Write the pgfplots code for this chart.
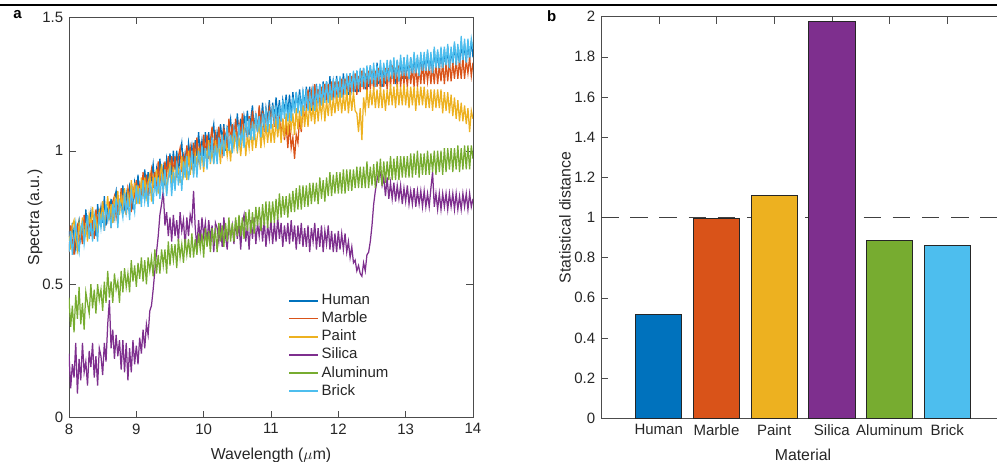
\documentclass[border=0pt]{standalone}
\usepackage{fontspec}
\setmainfont{Liberation Sans}
\usepackage{pgfplots}
\usepackage{pgfplotstable}
\pgfplotsset{compat=1.18}

\definecolor{cHuman}{HTML}{0072BD}
\definecolor{cMarble}{HTML}{D95319}
\definecolor{cPaint}{HTML}{EDB120}
\definecolor{cSilica}{HTML}{7E2F8E}
\definecolor{cAlum}{HTML}{77AC30}
\definecolor{cBrick}{HTML}{4DBEEE}
\definecolor{txt}{HTML}{262626}

% spectra, one column per material
\pgfplotstableread{
x      h    m    p    s    a    b
8.000  .70  .62  .68  .24  .45  .62
8.025  .64  .72  .63  .11  .34  .70
8.050  .73  .66  .72  .20  .42  .61
8.075  .67  .61  .74  .15  .32  .68
8.100  .63  .70  .67  .28  .46  .73
8.125  .71  .72  .63  .09  .37  .66
8.150  .74  .66  .73  .22  .49  .62
8.175  .67  .70  .69  .14  .35  .71
8.200  .72  .65  .75  .28  .43  .73
8.225  .66  .76  .67  .17  .33  .65
8.250  .78  .69  .73  .21  .47  .70
8.275  .70  .71  .66  .12  .43  .76
8.300  .72  .75  .76  .25  .39  .67
8.325  .77  .68  .72  .19  .50  .73
8.350  .69  .74  .79  .28  .41  .66
8.375  .76  .67  .70  .15  .48  .76
8.400  .68  .78  .75  .23  .39  .72
8.425  .80  .73  .69  .12  .50  .66
8.450  .74  .77  .78  .26  .44  .77
8.475  .79  .72  .73  .23  .48  .71
8.500  .73  .81  .81  .16  .40  .77
8.525  .83  .70  .72  .28  .51  .70
8.550  .72  .77  .77  .21  .43  .80
8.575  .78  .74  .83  .35  .55  .74
8.600  .76  .81  .74  .44  .45  .77
8.625  .82  .71  .80  .26  .51  .71
8.650  .73  .81  .73  .33  .43  .80
8.675  .82  .83  .83  .22  .54  .75
8.700  .85  .75  .78  .31  .48  .82
8.725  .76  .79  .85  .23  .51  .71
8.750  .81  .78  .76  .29  .43  .81
8.775  .79  .86  .83  .18  .55  .79
8.800  .87  .77  .79  .29  .47  .75
8.825  .79  .83  .86  .17  .56  .84
8.850  .84  .76  .76  .28  .49  .77
8.875  .78  .86  .84  .14  .54  .82
8.900  .87  .83  .79  .26  .47  .74
8.925  .85  .77  .89  .17  .59  .85
8.950  .78  .86  .82  .29  .51  .81
8.975  .88  .83  .88  .20  .57  .77
9.000  .84  .89  .80  .27  .49  .87
9.025  .91  .81  .87  .20  .58  .80
9.050  .82  .87  .80  .30  .52  .86
9.075  .88  .82  .90  .24  .60  .79
9.100  .84  .92  .83  .33  .51  .89
9.125  .93  .84  .90  .26  .59  .81
9.150  .86  .91  .83  .35  .50  .86
9.175  .92  .82  .88  .31  .60  .79
9.200  .84  .89  .91  .40  .55  .88
9.225  .90  .93  .81  .42  .60  .86
9.250  .95  .86  .90  .48  .53  .80
9.275  .87  .92  .86  .55  .63  .90
9.300  .93  .85  .93  .62  .54  .83
9.325  .87  .96  .84  .68  .61  .90
9.350  .97  .88  .90  .76  .54  .82
9.375  .90  .93  .95  .80  .63  .90
9.400  .94  .85  .86  .85  .57  .85
9.425  .87  .96  .93  .72  .63  .93
9.450  .97  .91  .84  .77  .54  .83
9.475  .93  .98  .92  .68  .66  .90
9.500  .99  .90  .95  .75  .57  .93
9.525  .91  .98  .87  .66  .65  .83
9.550  1.00 .92  .94  .76  .59  .92
9.575  .93  .98  .86  .68  .65  .85
9.600  1.00 .90  .95  .74  .56  .96
9.625  .91  .98  .93  .66  .67  .87
9.650  .99  1.01 .88  .77  .60  .93
9.675  1.03 .92  .98  .70  .65  .85
9.700  .93  .98  .91  .74  .58  .96
9.725  .99  .94  .96  .64  .67  .90
9.750  .95  1.02 .89  .75  .61  .98
9.775  1.03 .96  1.00 .68  .67  .89
9.800  .98  1.01 .91  .76  .60  .94
9.825  1.02 .93  .97  .73  .69  1.00
9.850  .95  1.03 .91  .85  .60  .90
9.875  1.04 .97  .99  .71  .67  .98
9.900  .98  1.05 .95  .64  .61  .90
9.925  1.07 .97  1.01 .74  .69  1.00
9.950  .98  1.02 .93  .66  .63  .95
9.975  1.04 .97  1.00 .75  .69  1.02
10.000 .98  1.06 .92  .68  .60  .94
10.025 1.07 .98  1.01 .73  .71  1.01
10.050 1.00 1.06 .96  .65  .64  .93
10.075 1.07 .97  1.04 .74  .70  1.01
10.100 .98  1.04 .95  .67  .62  .97
10.125 1.06 1.09 1.00 .72  .71  1.05
10.150 1.10 .99  .95  .62  .66  .95
10.175 1.00 1.06 1.04 .73  .70  1.02
10.200 1.07 1.01 .98  .71  .62  .95
10.225 1.03 1.09 1.02 .66  .73  1.05
10.250 1.10 1.03 .95  .73  .66  1.00
10.275 1.04 .99  1.06 .64  .72  1.06
10.300 1.10 1.08 .98  .75  .64  .98
10.325 1.00 1.06 1.04 .68  .73  1.04
10.350 1.09 1.01 .98  .63  .66  1.09
10.375 1.08 1.12 1.03 .73  .75  1.00
10.400 1.12 1.03 .96  .68  .66  1.06
10.425 1.04 1.10 1.05 .72  .73  .99
10.450 1.09 1.04 1.01 .65  .66  1.08
10.475 1.04 1.12 1.07 .74  .75  1.05
10.500 1.14 1.03 .99  .67  .68  1.01
10.525 1.06 1.10 1.05 .73  .76  1.10
10.550 1.12 1.06 .98  .63  .68  1.03
10.575 1.04 1.14 1.05 .73  .75  1.08
10.600 1.13 1.05 1.08 .76  .67  1.01
10.625 1.09 1.10 .98  .66  .77  1.13
10.650 1.15 1.04 1.06 .72  .70  1.05
10.675 1.06 1.13 1.01 .63  .78  1.12
10.700 1.12 1.07 1.08 .74  .69  1.04
10.725 1.17 1.15 1.00 .67  .77  1.11
10.750 1.08 1.07 1.10 .75  .69  1.04
10.775 1.14 1.13 1.01 .65  .79  1.14
10.800 1.07 1.07 1.06 .73  .72  1.07
10.825 1.16 1.17 1.10 .68  .79  1.13
10.850 1.10 1.09 1.01 .75  .70  1.05
10.875 1.18 1.15 1.08 .66  .80  1.14
10.900 1.09 1.07 1.03 .74  .72  1.09
10.925 1.16 1.16 1.10 .64  .81  1.16
10.950 1.11 1.09 1.03 .72  .71  1.07
10.975 1.19 1.16 1.10 .67  .81  1.15
11.000 1.11 1.11 1.03 .74  .73  1.08
11.025 1.18 1.17 1.10 .65  .81  1.17
11.050 1.12 1.09 1.03 .73  .73  1.11
11.075 1.20 1.16 1.12 .66  .82  1.17
11.100 1.13 1.08 1.05 .75  .74  1.08
11.125 1.19 1.14 1.12 .67  .84  1.17
11.150 1.11 1.05 1.03 .73  .75  1.11
11.175 1.19 1.12 1.12 .64  .83  1.19
11.200 1.15 1.04 1.05 .72  .76  1.12
11.225 1.21 1.10 1.14 .66  .83  1.19
11.250 1.14 1.01 1.06 .73  .75  1.11
11.275 1.21 1.10 1.13 .65  .84  1.18
11.300 1.13 1.01 1.08 .74  .77  1.11
11.325 1.22 1.05 1.14 .66  .85  1.20
11.350 1.15 .97  1.06 .72  .77  1.14
11.375 1.22 1.06 1.16 .63  .86  1.22
11.400 1.16 1.03 1.08 .72  .78  1.14
11.425 1.23 1.12 1.15 .65  .87  1.21
11.450 1.15 1.07 1.08 .73  .78  1.13
11.475 1.22 1.17 1.17 .64  .87  1.23
11.500 1.17 1.12 1.09 .71  .79  1.15
11.525 1.24 1.15 1.16 .64  .87  1.23
11.550 1.16 1.23 1.09 .72  .79  1.15
11.575 1.24 1.15 1.18 .62  .88  1.22
11.600 1.15 1.22 1.11 .71  .80  1.16
11.625 1.23 1.17 1.17 .66  .88  1.24
11.650 1.18 1.25 1.10 .73  .81  1.15
11.675 1.25 1.16 1.19 .63  .88  1.23
11.700 1.18 1.23 1.11 .71  .80  1.18
11.725 1.25 1.16 1.18 .64  .90  1.25
11.750 1.17 1.24 1.13 .72  .82  1.17
11.775 1.26 1.18 1.20 .62  .89  1.25
11.800 1.19 1.25 1.11 .70  .81  1.18
11.825 1.26 1.18 1.19 .65  .90  1.26
11.850 1.19 1.25 1.13 .72  .83  1.18
11.875 1.28 1.18 1.21 .63  .92  1.25
11.900 1.19 1.26 1.13 .70  .83  1.19
11.925 1.26 1.19 1.20 .62  .91  1.27
11.950 1.21 1.26 1.14 .69  .84  1.20
11.975 1.28 1.19 1.21 .62  .92  1.27
12.000 1.20 1.26 1.15 .70  .84  1.20
12.025 1.27 1.19 1.22 .63  .92  1.28
12.050 1.20 1.27 1.14 .69  .84  1.20
12.075 1.29 1.20 1.21 .63  .93  1.27
12.100 1.22 1.27 1.15 .69  .84  1.21
12.125 1.28 1.21 1.23 .62  .93  1.29
12.150 1.21 1.28 1.14 .66  .85  1.22
12.175 1.29 1.20 1.22 .60  .93  1.29
12.200 1.23 1.28 1.15 .64  .85  1.22
12.225 1.29 1.22 1.22 .58  .93  1.30
12.250 1.22 1.29 1.15 .59  .86  1.23
12.275 1.30 1.21 1.14 .55  .94  1.30
12.300 1.22 1.28 1.07 .57  .86  1.23
12.325 1.30 1.22 1.16 .54  .94  1.31
12.350 1.24 1.30 1.04 .53  .86  1.24
12.375 1.31 1.23 1.20 .58  .94  1.31
12.400 1.23 1.29 1.15 .55  .86  1.24
12.425 1.30 1.22 1.23 .61  .96  1.32
12.450 1.24 1.30 1.16 .62  .86  1.25
12.475 1.32 1.23 1.23 .66  .94  1.32
12.500 1.25 1.30 1.17 .72  .87  1.25
12.525 1.31 1.23 1.24 .80  .95  1.33
12.550 1.24 1.30 1.16 .85  .86  1.24
12.575 1.33 1.24 1.23 .89  .96  1.32
12.600 1.25 1.31 1.16 .92  .88  1.26
12.625 1.32 1.23 1.24 .92  .97  1.34
12.650 1.24 1.30 1.16 .87  .87  1.25
12.675 1.32 1.24 1.23 .90  .96  1.33
12.700 1.25 1.31 1.15 .83  .88  1.26
12.725 1.33 1.23 1.23 .90  .96  1.34
12.750 1.26 1.31 1.17 .82  .89  1.26
12.775 1.34 1.24 1.25 .88  .98  1.34
12.800 1.27 1.32 1.17 .82  .89  1.27
12.825 1.33 1.25 1.24 .88  .97  1.35
12.850 1.25 1.31 1.16 .81  .89  1.27
12.875 1.34 1.24 1.25 .87  .98  1.34
12.900 1.26 1.32 1.17 .82  .89  1.26
12.925 1.34 1.24 1.24 .87  .98  1.36
12.950 1.27 1.31 1.17 .80  .90  1.28
12.975 1.35 1.25 1.25 .86  .98  1.35
13.000 1.27 1.31 1.17 .81  .90  1.28
13.025 1.34 1.24 1.24 .87  .98  1.36
13.050 1.27 1.32 1.16 .80  .90  1.27
13.075 1.35 1.25 1.24 .85  .99  1.35
13.100 1.28 1.31 1.17 .80  .90  1.29
13.125 1.36 1.24 1.24 .86  .99  1.37
13.150 1.28 1.32 1.15 .79  .91  1.29
13.175 1.35 1.24 1.24 .85  1.00 1.36
13.200 1.28 1.31 1.17 .80  .90  1.28
13.225 1.36 1.25 1.24 .85  .99  1.37
13.250 1.29 1.33 1.17 .79  .91  1.30
13.275 1.36 1.25 1.24 .85  .99  1.37
13.300 1.29 1.32 1.16 .79  .91  1.30
13.325 1.37 1.26 1.23 .84  1.00 1.38
13.350 1.29 1.32 1.16 .79  .91  1.30
13.375 1.36 1.25 1.23 .86  .99  1.37
13.400 1.29 1.32 1.15 .92  .92  1.29
13.425 1.38 1.25 1.23 .79  1.00 1.39
13.450 1.30 1.33 1.16 .84  .91  1.31
13.475 1.37 1.25 1.23 .78  1.00 1.38
13.500 1.30 1.32 1.16 .84  .92  1.31
13.525 1.38 1.26 1.23 .78  1.00 1.39
13.550 1.30 1.33 1.14 .84  .91  1.31
13.575 1.38 1.25 1.22 .79  1.01 1.39
13.600 1.30 1.33 1.15 .84  .92  1.32
13.625 1.39 1.26 1.22 .78  1.01 1.40
13.650 1.31 1.34 1.14 .84  .93  1.31
13.675 1.38 1.26 1.21 .79  1.01 1.39
13.700 1.32 1.33 1.13 .84  .92  1.33
13.725 1.40 1.27 1.20 .78  1.01 1.41
13.750 1.32 1.34 1.12 .84  .93  1.32
13.775 1.39 1.27 1.19 .78  1.02 1.40
13.800 1.32 1.34 1.11 .83  .92  1.33
13.825 1.41 1.27 1.18 .78  1.01 1.43
13.850 1.33 1.35 1.11 .84  .93  1.34
13.875 1.40 1.27 1.17 .79  1.02 1.42
13.900 1.33 1.34 1.10 .84  .93  1.33
13.925 1.41 1.29 1.16 .78  1.02 1.42
13.950 1.34 1.35 1.07 .84  .93  1.35
13.975 1.41 1.28 1.15 .79  1.02 1.42
14.000 1.35 1.33 1.12 .82  .97  1.38
}\spectra

\pgfplotsset{
  matlab/.style={
    scale only axis, width=242.4pt,
    axis line style={black!70}, tick style={black!70},
    tick label style={font=\fontsize{9}{10}\selectfont, text=txt},
    label style={font=\fontsize{9.5}{11}\selectfont, text=txt},
    xlabel style={yshift=-1.5pt},
    /pgf/number format/assume math mode=true,
  },
  mbar/.style={ybar, bar width=0.8, bar shift=0pt, draw=black!85, line width=0.5pt, fill=#1},
}

\begin{document}
\begin{tikzpicture}
\useasboundingbox (0,0) rectangle (598.2pt,-277.2pt);
\clip (0,0) rectangle (598.2pt,-277.2pt);
\draw[black, line width=0.9pt] (0,-3pt) -- (598.2pt,-3pt);
\node[anchor=north west, inner sep=0pt, font=\fontsize{9}{10}\selectfont\bfseries] at (7.8pt,-6pt) {a};
\node[anchor=north west, inner sep=0pt, font=\fontsize{9}{10}\selectfont\bfseries] at (328pt,-6pt) {b};

\begin{axis}[matlab,
  at={(41.4pt,-10.4pt)}, anchor=north west, height=240.2pt,
  xmin=8, xmax=14, ymin=0, ymax=1.5,
  xtick={8,9,10,11,12,13,14}, ytick={0,0.5,1,1.5},
  xlabel={Wavelength ($\mu$m)}, ylabel={Spectra (a.u.)},
  ylabel style={yshift=-7pt},
  legend style={at={(0.53,0.325)}, anchor=north west, draw=none, fill=none,
    font=\fontsize{9}{10}\selectfont, text=txt, row sep=-1.2pt},
  legend cell align=left,
  legend image post style={line width=0.9pt},
  every axis plot/.append style={line width=0.75pt},
]
\addplot[color=cHuman]  table[x=x, y=h] {\spectra}; \addlegendentry{Human}
\addplot[color=cMarble] table[x=x, y=m] {\spectra}; \addlegendentry{Marble}
\addplot[color=cPaint]  table[x=x, y=p] {\spectra}; \addlegendentry{Paint}
\addplot[color=cSilica] table[x=x, y=s] {\spectra}; \addlegendentry{Silica}
\addplot[color=cAlum]   table[x=x, y=a] {\spectra}; \addlegendentry{Aluminum}
\addplot[color=cBrick]  table[x=x, y=b] {\spectra}; \addlegendentry{Brick}
\end{axis}

\begin{axis}[matlab,
  at={(360.6pt,-10.0pt)}, anchor=north west, height=241pt,
  xmin=0, xmax=7, ymin=0, ymax=2,
  xtick={1,2,3,4,5,6},
  xticklabels={Human, Marble, Paint, Silica, Aluminum, Brick},
  ytick={0,0.2,0.4,0.6,0.8,1,1.2,1.4,1.6,1.8,2},
  xlabel={Material}, ylabel={Statistical distance},
  ylabel style={yshift=-4.8pt},
]
\addplot[black!75, line width=0.9pt, dash pattern=on 10.5pt off 7pt]
  coordinates {(0,1) (7,1)};
\addplot[mbar=cHuman]  coordinates {(1,0.518)};
\addplot[mbar=cMarble] coordinates {(2,0.996)};
\addplot[mbar=cPaint]  coordinates {(3,1.110)};
\addplot[mbar=cSilica] coordinates {(4,1.974)};
\addplot[mbar=cAlum]   coordinates {(5,0.888)};
\addplot[mbar=cBrick]  coordinates {(6,0.863)};
\end{axis}
\end{tikzpicture}
\end{document}
